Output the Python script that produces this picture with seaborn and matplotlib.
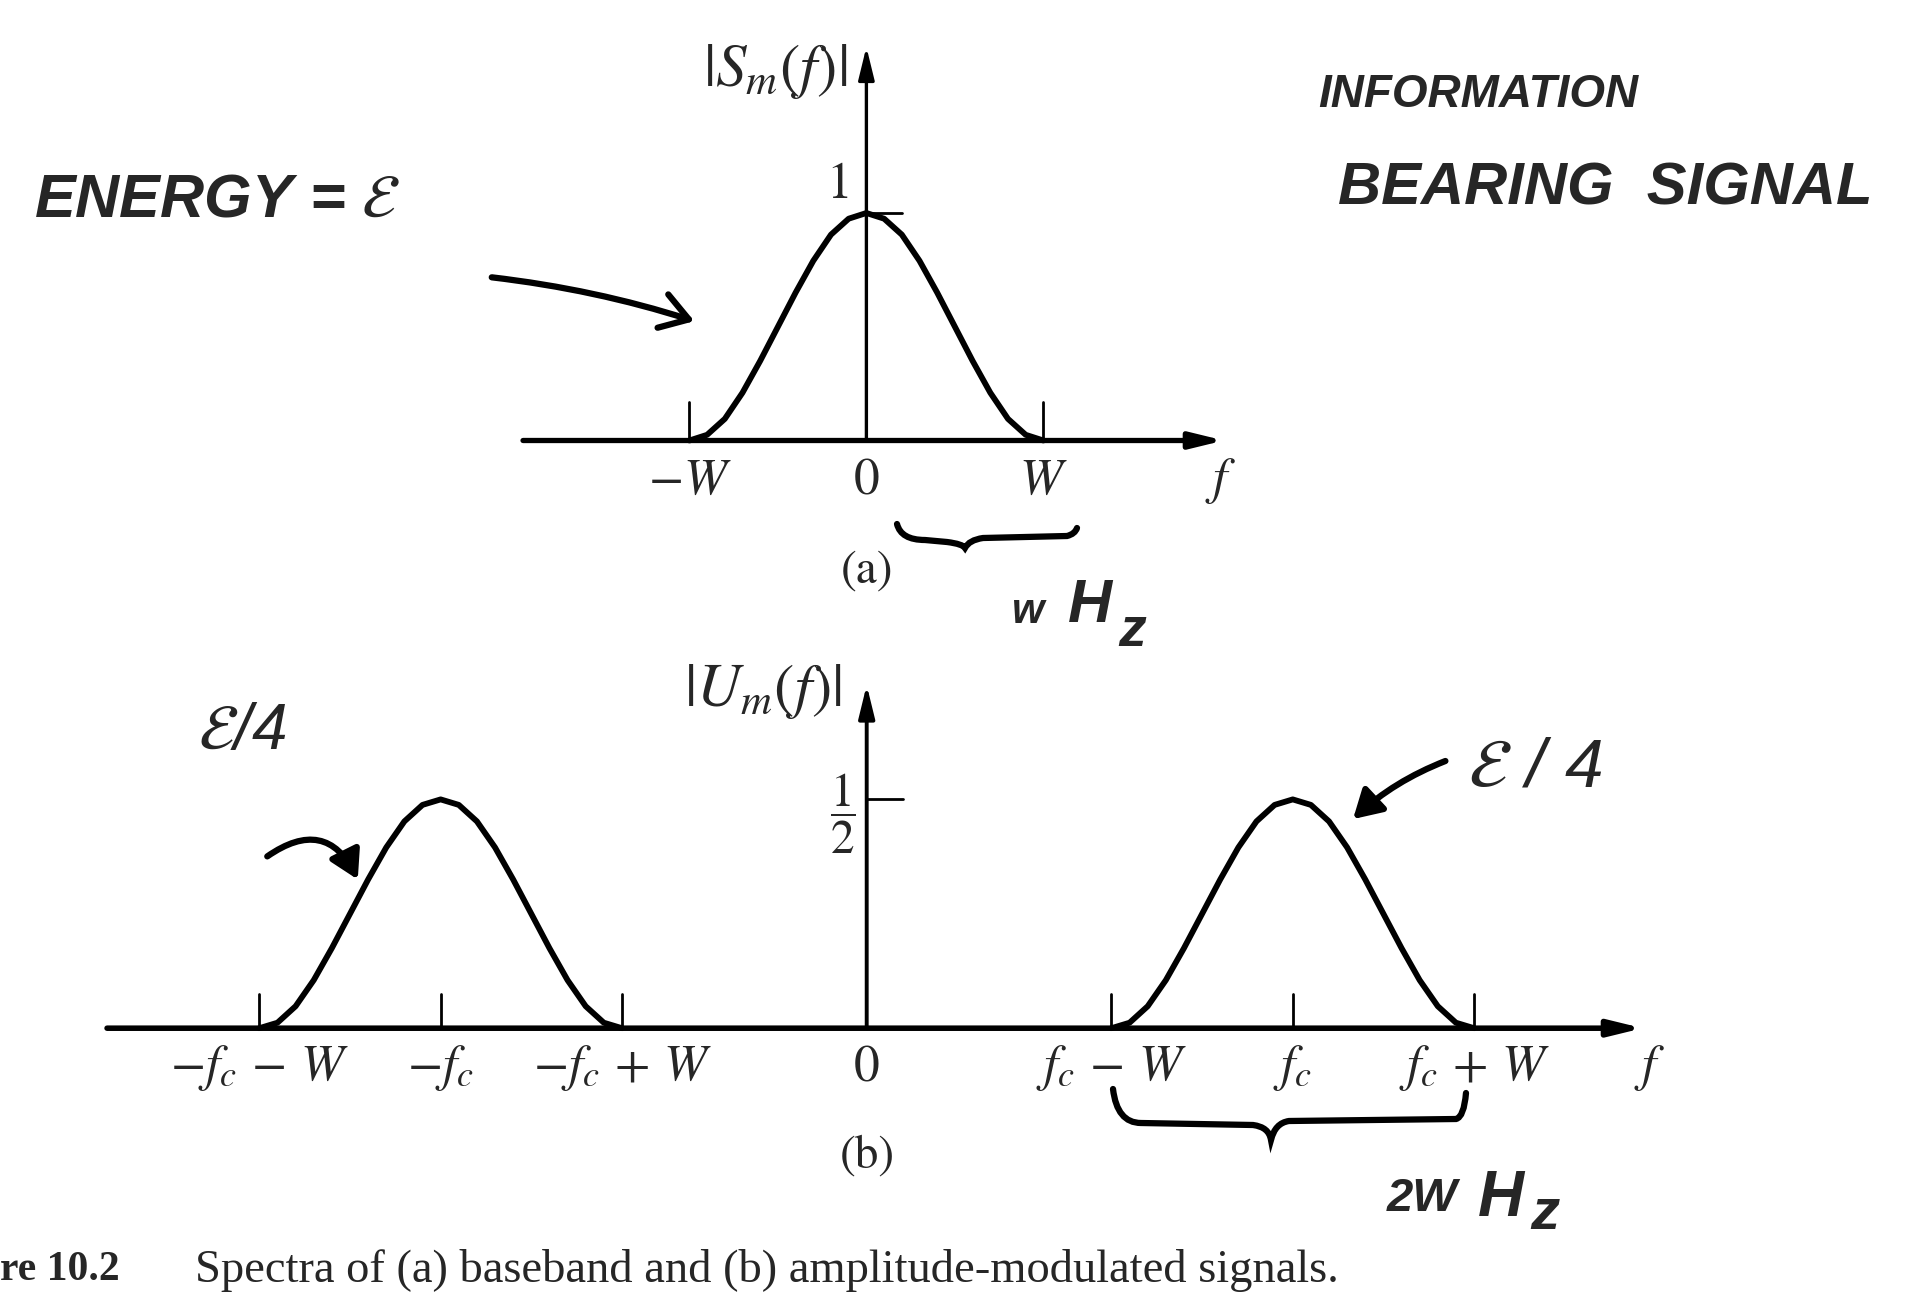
import matplotlib
matplotlib.use("Agg")
import matplotlib.pyplot as plt
from matplotlib.path import Path
from matplotlib.patches import PathPatch, FancyArrowPatch
import seaborn as sns

# ---- spectrum samples (frequency offsets in units of W, normalised magnitude) ----
pulse_offset = [-1.0, -0.9, -0.8, -0.7, -0.6, -0.5, -0.4, -0.3, -0.2, -0.1, 0.0,
                0.1, 0.2, 0.3, 0.4, 0.5, 0.6, 0.7, 0.8, 0.9, 1.0]
baseband_mag = [0.0, 0.025, 0.095, 0.21, 0.35, 0.50, 0.65, 0.79, 0.905, 0.975, 1.0,
                0.975, 0.905, 0.79, 0.65, 0.50, 0.35, 0.21, 0.095, 0.025, 0.0]
modulated_mag = [0.0, 0.012, 0.048, 0.105, 0.175, 0.25, 0.325, 0.395, 0.452, 0.488, 0.5,
                 0.488, 0.452, 0.395, 0.325, 0.25, 0.175, 0.105, 0.048, 0.012, 0.0]
carrier = 2.35  # f_c expressed in units of W

top_ticks = [-1.0, 0.0, 1.0]
top_tick_labels = [r"$-W$", r"$0$", r"$W$"]
bottom_ticks = [-carrier - 1, -carrier, -carrier + 1, 0.0, carrier - 1, carrier, carrier + 1]
bottom_tick_labels = [r"$-f_c\,-\,W$", r"$-f_c$", r"$-f_c\,+\,W$", r"$0$",
                      r"$f_c\,-\,W$", r"$f_c$", r"$f_c\,+\,W$"]

sns.set_style("white")
plt.rcParams["font.family"] = ["STIXGeneral", "DejaVu Sans"]
plt.rcParams["mathtext.fontset"] = "stix"

FW, FH = 1908, 1295
fig = plt.figure(figsize=(FW / 100, FH / 100), dpi=100)
fig.patch.set_facecolor("white")


def fp(x, y):
    """figure pixel (from top-left) -> figure fraction"""
    return x / FW, 1 - y / FH


def make_axes(ox, oy, sx, sy):
    ax = fig.add_axes([0, 0, 1, 1])
    ax.set_xlim(-ox / sx, (FW - ox) / sx)
    ax.set_ylim((oy - FH) / sy, oy / sy)
    ax.set_axis_off()
    ax.patch.set_alpha(0)
    return ax


def axis_arrow(ax, start, end, lw):
    ax.annotate("", xy=end, xytext=start,
                arrowprops=dict(arrowstyle="-|>,head_length=0.9,head_width=0.22",
                                lw=lw, color="black", shrinkA=0, shrinkB=0,
                                mutation_scale=22))


LW_CURVE = 4.2
TICK_FS = 37
LABEL_FS = 44
HAND = ["Liberation Sans", "DejaVu Sans"]

# ---------------- (a) baseband spectrum ----------------
ax_a = make_axes(866.4, 440.5, 177.0, 227.5)
axis_arrow(ax_a, (-1.94, 0), (2.02, 0), 3.8)
axis_arrow(ax_a, (0, 0), (0, 1.73), 2.4)
sns.lineplot(x=pulse_offset, y=baseband_mag, ax=ax_a, color="black",
             lw=LW_CURVE, sort=False, estimator=None)
for t in [top_ticks[0], top_ticks[2]]:
    ax_a.plot([t, t], [0, 0.17], color="black", lw=2.0)
ax_a.plot([0, 0.2], [1.0, 1.0], color="black", lw=2.0)
for t, lab in zip(top_ticks, top_tick_labels):
    ax_a.text(t, -0.18, lab, ha="center", va="center", fontsize=TICK_FS)
ax_a.text(2.0, -0.18, r"$f$", ha="center", va="center", fontsize=TICK_FS)
ax_a.text(-0.1, 1.12, r"$1$", ha="right", va="center", fontsize=37)
ax_a.text(-0.11, 1.624, r"$|S_m(f)|$", ha="right", va="center", fontsize=LABEL_FS)
fig.text(*fp(867, 571), "(a)", ha="center", va="center", fontsize=34)

# ---------------- (b) amplitude-modulated spectrum ----------------
ax_b = make_axes(866.7, 1028.2, 181.3, 457.6)
axis_arrow(ax_b, (-4.19, 0), (4.28, 0), 4.0)
axis_arrow(ax_b, (0, 0), (0, 0.75), 2.8)
for centre in (-carrier, carrier):
    sns.lineplot(x=[centre + o for o in pulse_offset], y=modulated_mag, ax=ax_b,
                 color="black", lw=LW_CURVE, sort=False, estimator=None)
for t in bottom_ticks:
    if t != 0.0:
        ax_b.plot([t, t], [0, 0.075], color="black", lw=2.0)
ax_b.plot([0, 0.2], [0.5, 0.5], color="black", lw=2.0)
for t, lab in zip(bottom_ticks, bottom_tick_labels):
    ax_b.text(t, -0.088, lab, ha="center", va="center", fontsize=TICK_FS)
ax_b.text(4.32, -0.088, r"$f$", ha="center", va="center", fontsize=TICK_FS)
ax_b.text(-0.06, 0.47, r"$\dfrac{1}{2}$", ha="right", va="center", fontsize=34)
ax_b.text(-0.14, 0.735, r"$|U_m(f)|$", ha="right", va="center", fontsize=LABEL_FS)
fig.text(*fp(867, 1156), "(b)", ha="center", va="center", fontsize=34)

# ---------------- caption ----------------
fig.text(*fp(0, 1270), "re 10.2", ha="left", va="center", fontsize=30,
         fontweight="bold", family=["Liberation Serif", "DejaVu Serif"])
fig.text(*fp(195, 1270), "Spectra of (a) baseband and (b) amplitude-modulated signals.",
         ha="left", va="center", fontsize=33.5, family=["Liberation Serif", "DejaVu Serif"])

# ---------------- pen annotations ----------------
def note(x, y, s, size, **kw):
    fig.text(*fp(x, y), s, ha=kw.pop("ha", "left"), va="center", fontsize=size,
             family=HAND, style="italic", **kw)


def pen_arrow(x0, y0, x1, y1, rad, style="->,head_length=0.7,head_width=0.45"):
    fig.add_artist(FancyArrowPatch(
        fp(x0, y0), fp(x1, y1), transform=fig.transFigure,
        connectionstyle=f"arc3,rad={rad}", arrowstyle=style,
        mutation_scale=28, lw=4.5, color="black"))


def brace(x0, x1, y_top, y_flat, x_tip, y_tip):
    pts = [(x0, y_top), (x0 + 4, y_flat), (x0 + 28, y_flat),
           (x_tip - 18, y_flat + 2), (x_tip - 2, y_flat + 4), (x_tip, y_tip),
           (x_tip + 4, y_flat), (x_tip + 18, y_flat - 2), (x1 - 10, y_flat - 4),
           (x1 - 2, y_flat - 6), (x1, y_top + 4)]
    codes = [Path.MOVETO, Path.CURVE3, Path.CURVE3, Path.LINETO, Path.CURVE3, Path.CURVE3,
             Path.CURVE3, Path.CURVE3, Path.LINETO, Path.CURVE3, Path.CURVE3]
    verts = [fp(x, y) for x, y in pts]
    fig.add_artist(PathPatch(Path(verts, codes), transform=fig.transFigure,
                             fill=False, lw=4.5, color="black", capstyle="round"))


note(34, 201, r"ENERGY = $\mathcal{E}$", 44, fontweight="bold")
pen_arrow(489, 277, 697, 322, -0.05)

note(1318, 95, "INFORMATION", 33, fontweight="bold")
note(1338, 189, "BEARING  SIGNAL", 43, fontweight="bold")

brace(897, 1077, 524, 540, 965, 548)
note(1012, 612, "w", 30, fontweight="bold")
note(1068, 606, "H", 44, fontweight="bold")
note(1118, 632, "z", 40, fontweight="bold")

note(198, 732, r"$\mathcal{E}$/4", 46)
pen_arrow(265, 858, 359, 882, -0.6, style="-|>,head_length=0.6,head_width=0.35")

note(1468, 769, r"$\mathcal{E}$ / 4", 50)
pen_arrow(1448, 760, 1351, 821, 0.1, style="-|>,head_length=0.6,head_width=0.35")

brace(1113, 1466, 1089, 1123, 1271, 1140)
note(1387, 1199, "2W", 34, fontweight="bold")
note(1478, 1199, "H", 46, fontweight="bold")
note(1530, 1214, "z", 42, fontweight="bold")

fig.savefig("out.png", dpi=100, facecolor="white")
